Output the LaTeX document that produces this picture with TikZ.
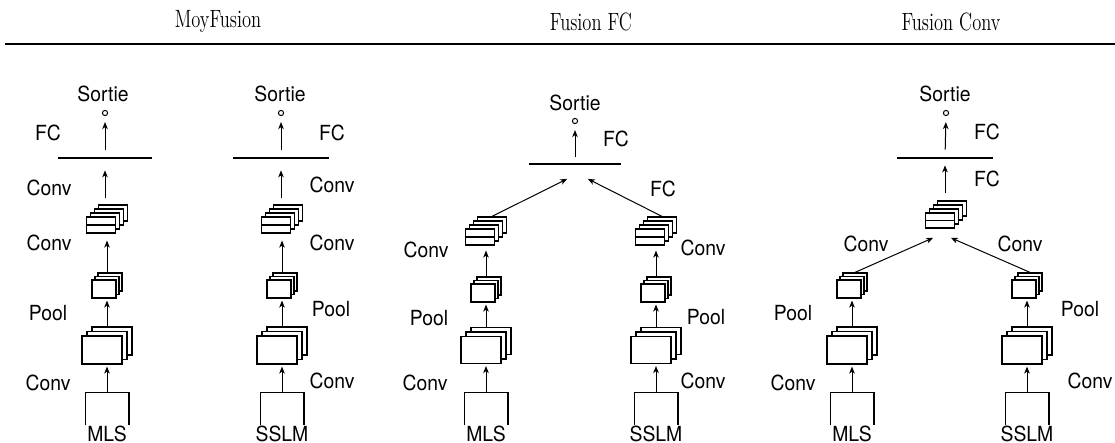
\documentclass[tikz,border=0pt]{standalone}
\usepackage{fontspec}
\newfontfamily\lblfont[FakeStretch=0.93]{TeX Gyre Heros}
\newfontfamily\ttlfont[FakeStretch=0.74]{Latin Modern Roman}
\usetikzlibrary{arrows.meta,calc}

\tikzset{
  fmap/.style={draw, fill=white, line width=0.6pt, inner sep=0pt},
  inbox/.style={inner sep=0pt, minimum width=21.5pt, minimum height=16pt},
  midline/.style={line width=0.6pt},
  lbl/.style={font=\lblfont\fontsize{10.4}{12}\selectfont, inner sep=0pt},
  inlbl/.style={lbl, anchor=north, inner sep=0pt},
  ttl/.style={font=\ttlfont\fontsize{12.5}{15}\selectfont, inner sep=0pt},
  flow/.style={-{Stealth[length=3.5pt,width=2.8pt,inset=1pt]}, line width=0.5pt, shorten >=1pt},
  fcline/.style={inner sep=0pt, minimum height=0pt},
  outp/.style={circle, draw, inner sep=0pt, minimum size=2.6pt, line width=0.5pt},
}

% feature maps: name, x, y, width, height, maps behind, dx, dy
\newcommand{\fmaps}[8]{%
  \foreach \k in {#6,...,1}{
    \node[fmap, minimum width=#4*0.5pt, minimum height=#5*0.5pt] (#1-\k) at ($(#2,#3)+(\k*#7,-\k*#8)$) {};
  }
  \node[fmap, minimum width=#4*0.5pt, minimum height=#5*0.5pt] (#1) at (#2,#3) {};
}
% input box, open at the bottom
\newcommand{\inbox}[1]{%
  \draw[midline] (#1.south west) -- (#1.north west) -- (#1.north east) -- (#1.south east);
}

\begin{document}
\begin{tikzpicture}[x=0.5pt,y=-0.5pt]
  \useasboundingbox (0,0) rectangle (1115,443);

  % headings
  \node[ttl] (t1) at (218,22) {MoyFusion};
  \node[ttl] (t2) at (591,22) {Fusion FC};
  \node[ttl] (t3) at (951,22) {Fusion Conv};
  \coordinate (r0) at (5,44);
  \coordinate (r1) at (1115,44);
  \draw[line width=0.8pt] (r0) -- (r1);

  % MoyFusion, MLS
  \node[inbox] (a0) at (107,409) {};
  \inbox{a0}
  \node[inlbl] (a0t) at (a0.south) {MLS};
  \fmaps{a1}{102}{350}{40}{28}{2}{5}{4.5}
  \fmaps{a2}{104}{289}{24}{18}{2}{3}{3.5}
  \fmaps{a3}{101}{225}{29}{16}{3}{4}{4}
  \draw[midline] (a3.west) -- (a3.east);
  \node[fcline, minimum width=47pt] (a4) at (105,158) {};
  \draw[midline] (a4.west) -- (a4.east);
  \node[outp] (a5) at (105,113) {};
  \node[lbl] (a6) at (103,94) {Sortie};
  \draw[flow] (a0.north) -- (a0.north |- a1.south);
  \draw[flow] (a0.north |- a1-2.north) -- (a0.north |- a2.south);
  \draw[flow, shorten >=3.5pt] (a0.north |- a2-2.north) -- (a0.north |- a3.south);
  \draw[flow, shorten <=3pt, shorten >=6pt] (a4.south |- a3-3.north) -- (a4.south);
  \draw[flow, shorten <=4pt, shorten >=3pt] (a4.north) -- (a5.south);
  \node[lbl] (a7) at (48,133) {FC};
  \node[lbl] (a8) at (49,188) {Conv};
  \node[lbl] (a9) at (49,243) {Conv};
  \node[lbl] (a10) at (48,313) {Pool};
  \node[lbl] (a11) at (48,383) {Conv};

  % MoyFusion, SSLM
  \node[inbox] (b0) at (282,409) {};
  \inbox{b0}
  \node[inlbl] (b0t) at (b0.south) {SSLM};
  \fmaps{b1}{277}{350}{40}{28}{2}{5}{4.5}
  \fmaps{b2}{279}{289}{24}{18}{2}{3}{3.5}
  \fmaps{b3}{276}{225}{29}{16}{3}{4}{4}
  \draw[midline] (b3.west) -- (b3.east);
  \node[fcline, minimum width=47.5pt] (b4) at (281,158) {};
  \draw[midline] (b4.west) -- (b4.east);
  \node[outp] (b5) at (281,113) {};
  \node[lbl] (b6) at (280,94) {Sortie};
  \draw[flow] (b0.north) -- (b0.north |- b1.south);
  \draw[flow] (b0.north |- b1-2.north) -- (b0.north |- b2.south);
  \draw[flow, shorten >=3.5pt] (b0.north |- b2-2.north) -- (b0.north |- b3.south);
  \draw[flow, shorten <=3pt, shorten >=6pt] (b4.south |- b3-3.north) -- (b4.south);
  \draw[flow, shorten <=4pt, shorten >=3pt] (b4.north) -- (b5.south);
  \node[lbl] (b7) at (332,133) {FC};
  \node[lbl] (b8) at (332,185) {Conv};
  \node[lbl] (b9) at (332,243) {Conv};
  \node[lbl] (b10) at (331,309) {Pool};
  \node[lbl] (b11) at (332,381) {Conv};

  % Fusion FC
  \node[inbox] (c0) at (486,409) {};
  \inbox{c0}
  \node[inlbl] (c0t) at (c0.south) {MLS};
  \fmaps{c1}{481}{350}{40}{27}{2}{5}{4.5}
  \fmaps{c2}{483}{293}{24}{18}{2}{3}{3.5}
  \fmaps{c3}{480}{237}{29}{16}{3}{4}{4}
  \draw[midline] (c3.west) -- (c3.east);
  \node[inbox] (d0) at (656,409) {};
  \inbox{d0}
  \node[inlbl] (d0t) at (d0.south) {SSLM};
  \fmaps{d1}{651}{350}{40}{27}{2}{5}{4.5}
  \fmaps{d2}{653}{293}{24}{18}{2}{3}{3.5}
  \fmaps{d3}{650}{237}{29}{16}{3}{4}{4}
  \draw[midline] (d3.west) -- (d3.east);
  \node[fcline, minimum width=46pt] (c4) at (575,164) {};
  \draw[midline] (c4.west) -- (c4.east);
  \node[outp] (c5) at (575,121) {};
  \node[lbl] (c6) at (575,103) {Sortie};
  \coordinate (c4l) at (569,178);
  \coordinate (c4r) at (586,178);
  \draw[flow] (c0.north) -- (c0.north |- c1.south);
  \draw[flow] (c0.north |- c1-2.north) -- (c0.north |- c2.south);
  \draw[flow, shorten >=2.5pt] (c0.north |- c2-2.north) -- (c0.north |- c3.south);
  \draw[flow] (d0.north) -- (d0.north |- d1.south);
  \draw[flow] (d0.north |- d1-2.north) -- (d0.north |- d2.south);
  \draw[flow, shorten >=2.5pt] (d0.north |- d2-2.north) -- (d0.north |- d3.south);
  \draw[flow] (c3-3.north) -- (c4l);
  \draw[flow] (d3-3.north) -- (c4r);
  \draw[flow, shorten <=3.5pt, shorten >=3pt] (c4.north) -- (c5.south);
  \node[lbl] (c7) at (616,139) {FC};
  \node[lbl] (c8) at (663,189) {FC};
  \node[lbl] (c9) at (426,250) {Conv};
  \node[lbl] (c10) at (429,318) {Pool};
  \node[lbl] (c11) at (425,383) {Conv};
  \node[lbl] (d9) at (703,248) {Conv};
  \node[lbl] (d10) at (706,317) {Pool};
  \node[lbl] (d11) at (703,381) {Conv};

  % Fusion Conv
  \node[inbox] (e0) at (852,409) {};
  \inbox{e0}
  \node[inlbl] (e0t) at (e0.south) {MLS};
  \fmaps{e1}{847}{350}{40}{28}{2}{5}{4.5}
  \fmaps{e2}{849}{289}{24}{18}{2}{3}{3.5}
  \node[inbox] (f0) at (1027,409) {};
  \inbox{f0}
  \node[inlbl] (f0t) at (f0.south) {SSLM};
  \fmaps{f1}{1022}{350}{40}{28}{2}{5}{4.5}
  \fmaps{f2}{1024}{289}{24}{18}{2}{3}{3.5}
  \fmaps{g3}{940}{220.5}{29}{15}{3}{4}{4}
  \draw[midline] (g3.west) -- (g3.east);
  \node[fcline, minimum width=47.5pt] (g4) at (945,158) {};
  \draw[midline] (g4.west) -- (g4.east);
  \node[outp] (g5) at (946,113) {};
  \node[lbl] (g6) at (945,94) {Sortie};
  \coordinate (g3l) at (935,237);
  \coordinate (g3r) at (949,237);
  \draw[flow] (e0.north) -- (e0.north |- e1.south);
  \draw[flow] (e0.north |- e1-2.north) -- (e0.north |- e2.south);
  \draw[flow] (f0.north) -- (f0.north |- f1.south);
  \draw[flow] (f0.north |- f1-2.north) -- (f0.north |- f2.south);
  \draw[flow] (e2-2.north) -- (g3l);
  \draw[flow] (f2-2.north) -- (g3r);
  \draw[flow, shorten <=3.5pt, shorten >=3.5pt] (g4.south |- g3-3.north) -- (g4.south);
  \draw[flow, shorten <=4pt, shorten >=3pt] (g4.north) -- (g5.south);
  \node[lbl] (g7) at (987,132) {FC};
  \node[lbl] (g8) at (987,179) {FC};
  \node[lbl] (e9) at (866,244) {Conv};
  \node[lbl] (f9) at (1020,244) {Conv};
  \node[lbl] (e10) at (793,313) {Pool};
  \node[lbl] (e11) at (793,383) {Conv};
  \node[lbl] (f10) at (1080,309) {Pool};
  \node[lbl] (f11) at (1090,381) {Conv};
\end{tikzpicture}
\end{document}
